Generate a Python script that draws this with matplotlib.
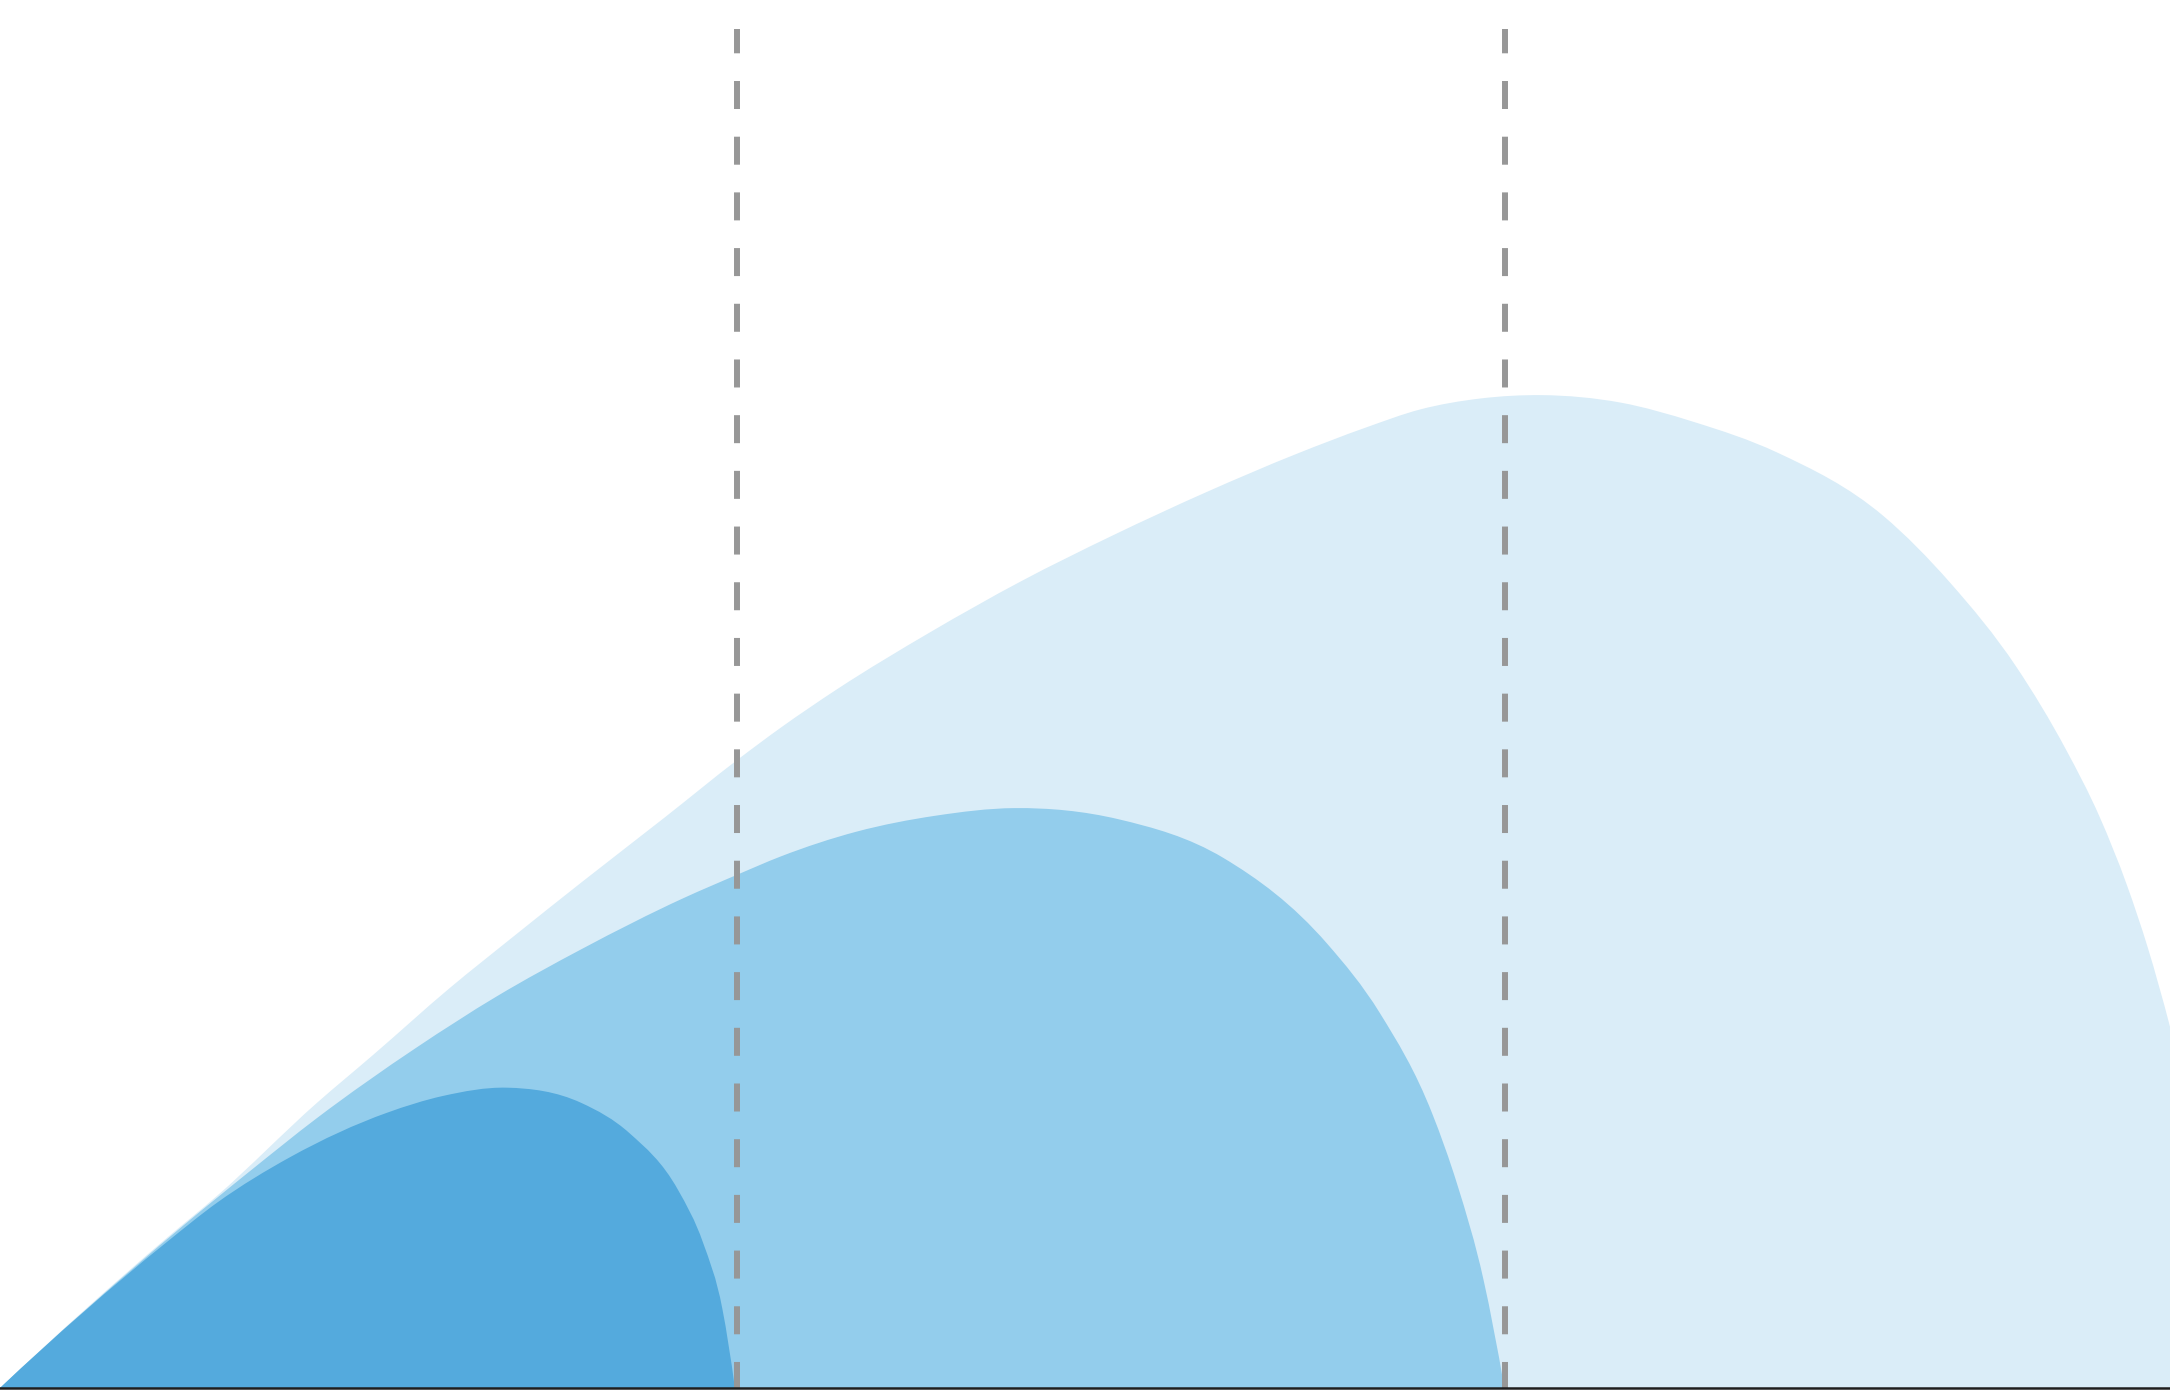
import numpy as np
import matplotlib
matplotlib.use("Agg")
import matplotlib.pyplot as plt
from matplotlib.path import Path
from matplotlib.patches import PathPatch

# ---- data ----
large_x = [0, 12.0, 15.7, 22.9, 27.0, 32.5, 37.2, 42.1, 48.0, 53.3, 56.4, 60.5, 67.2, 73.8,
           80.4, 87.1, 93.7, 98.7, 102.6, 107.0, 111.4, 117.1, 122.4, 128.4, 136.1, 140.9,
           145.7, 149.3, 151.7, 153.7, 155.2, 156.8]
large_y = [0, 10.8, 13.9, 20.6, 24.1, 28.9, 32.7, 36.6, 41.2, 45.4, 47.7, 50.5, 54.6, 58.3,
           61.6, 64.7, 67.5, 69.4, 70.7, 71.5, 71.74, 71.2, 69.8, 67.6, 63.0, 58.2,
           52.1, 46.1, 41.3, 36.3, 31.8, 26.1]

medium_x = [0, 13.2, 18.1, 22.9, 30.1, 35.9, 42.1, 49.4, 53.3, 56.4, 61.9, 67.6, 73.3,
            80.8, 88.4, 95.9, 99.7, 103.5, 105.3, 107.2, 108.7]
medium_y = [0, 11.7, 15.7, 19.5, 24.6, 28.3, 31.75, 35.4, 37.1, 38.4, 40.2, 41.35, 41.9,
            41.1, 38.3, 32.1, 27.1, 19.8, 14.7, 7.8, 0]

small_x = [0, 12.0, 15.7, 21.0, 28.0, 32.0, 36.6, 42.0, 45.5, 49.0, 50.8, 52.2, 53.1]
small_y = [0, 10.5, 13.4, 16.7, 19.9, 21.1, 21.7, 20.6, 18.4, 14.3, 10.5, 5.7, 0]

marker_x = [53.27, 108.77]
marker_top = 98.2

colors = ["#DAEDF8", "#93CDEC", "#54AADD"]

plt.rcParams["lines.scale_dashes"] = False

fig = plt.figure(figsize=(21.7, 13.9), dpi=100)
ax = fig.add_axes([0, 0, 1, 1])
ax.set_xlim(0, 156.8)
ax.set_ylim(-0.145, 100.29)
ax.axis("off")


def smooth_area(xs, ys):
    """Closed area path through the points, drawn as cubic Bezier segments."""
    x = np.asarray(xs, float)
    y = np.asarray(ys, float)
    n = len(x)
    h = np.diff(x)
    d = np.diff(y) / h
    m = np.empty(n)
    m[1:-1] = (d[:-1] * h[1:] + d[1:] * h[:-1]) / (h[:-1] + h[1:])
    m[0] = ((2 * h[0] + h[1]) * d[0] - h[0] * d[1]) / (h[0] + h[1])
    m[-1] = ((2 * h[-1] + h[-2]) * d[-1] - h[-1] * d[-2]) / (h[-1] + h[-2])
    verts = [(x[0], y[0])]
    codes = [Path.MOVETO]
    for i in range(n - 1):
        verts += [(x[i] + h[i] / 3, y[i] + m[i] * h[i] / 3),
                  (x[i + 1] - h[i] / 3, y[i + 1] - m[i + 1] * h[i] / 3),
                  (x[i + 1], y[i + 1])]
        codes += [Path.CURVE4] * 3
    verts += [(x[-1], 0), (x[0], 0), (x[0], 0)]
    codes += [Path.LINETO, Path.LINETO, Path.CLOSEPOLY]
    return Path(verts, codes)


for (xs, ys), col, z in zip([(large_x, large_y), (medium_x, medium_y), (small_x, small_y)],
                            colors, [1, 2, 3]):
    ax.add_patch(PathPatch(smooth_area(xs, ys), facecolor=col, edgecolor="none",
                           linewidth=0, zorder=z))

for mx in marker_x:
    ax.plot([mx, mx], [marker_top, 0], color="#979797", linewidth=4.3,
            linestyle=(2.66, (20.16, 19.94)), solid_capstyle="butt",
            dash_capstyle="butt", zorder=4)

ax.axhline(0, color="#1e1e1e", linewidth=1.8, zorder=5)

fig.savefig("out.png", dpi=100)
